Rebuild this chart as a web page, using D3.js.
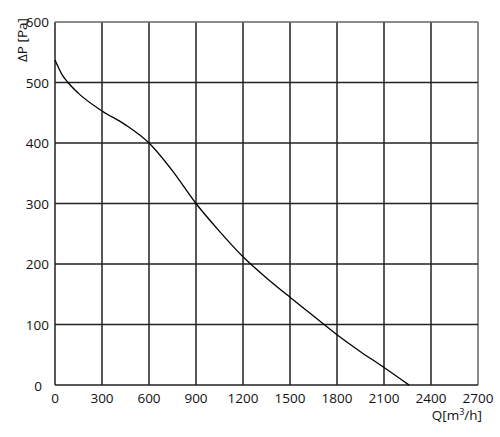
<!DOCTYPE html>
<html><head><meta charset="utf-8">
<script src="https://cdn.jsdelivr.net/npm/d3@7"></script>
<style>body{margin:0;background:#fff}svg{display:block}text{font-family:"Open Sans",sans-serif;fill:#111}</style>
</head><body><svg id="c" width="500" height="437"></svg>
<script>
const qValues = [0, 20, 45, 83, 150, 300, 450, 600, 750, 900, 1050, 1200, 1350, 1500, 1650, 1800, 1950, 2100, 2260];
const dpValues = [537, 526, 513, 500, 482, 453, 430, 400, 354, 300, 254, 212, 177, 145, 114, 83, 55, 29, 0];
const xTicks = [0, 300, 600, 900, 1200, 1500, 1800, 2100, 2400, 2700];
const yTicks = [0, 100, 200, 300, 400, 500, 600];

const svg = d3.select("#c");
const x = d3.scaleLinear().domain([0, 2700]).range([55, 478]);
const y = d3.scaleLinear().domain([0, 600]).range([385, 22]);

// grid
svg.append("g").selectAll("line").data(xTicks).join("line")
  .attr("x1", d => x(d)).attr("x2", d => x(d)).attr("y1", y(0)).attr("y2", y(600))
  .attr("stroke", d => d === 2700 ? "#666" : "#222").attr("stroke-width", 1.5);
svg.append("g").selectAll("line").data(yTicks).join("line")
  .attr("x1", x(0)).attr("x2", x(2700)).attr("y1", d => y(d)).attr("y2", d => y(d))
  .attr("stroke", d => d === 600 ? "#666" : "#222").attr("stroke-width", 1.5);

// tick labels
svg.append("g").selectAll("text").data(yTicks).join("text")
  .attr("x", d => d === 0 ? 42 : 49).attr("y", d => y(d) + (d === 0 ? 6 : 5))
  .attr("text-anchor", "end").attr("font-size", 13.5).text(d => d);
svg.append("g").selectAll("text").data(xTicks).join("text")
  .attr("x", d => x(d)).attr("y", 403)
  .attr("text-anchor", "middle").attr("font-size", 13.5).text(d => d);

// axis titles
svg.append("text").attr("transform", "translate(27,40) rotate(-90)")
  .attr("text-anchor", "middle").attr("font-size", 13.5).text("ΔP [Pa]");
const qt = svg.append("text").attr("x", 482).attr("y", 420).attr("text-anchor", "end").attr("font-size", 13.5);
qt.append("tspan").text("Q[m");
qt.append("tspan").attr("dy", -5).attr("font-size", 9).text("3");
qt.append("tspan").attr("dy", 5).text("/h]");

// curve
const line = d3.line().x(d => x(d[0])).y(d => y(d[1])).curve(d3.curveMonotoneX);
svg.append("path").datum(qValues.map((q, i) => [q, dpValues[i]]))
  .attr("d", line).attr("fill", "none").attr("stroke", "#000").attr("stroke-width", 1.3);
</script></body></html>
